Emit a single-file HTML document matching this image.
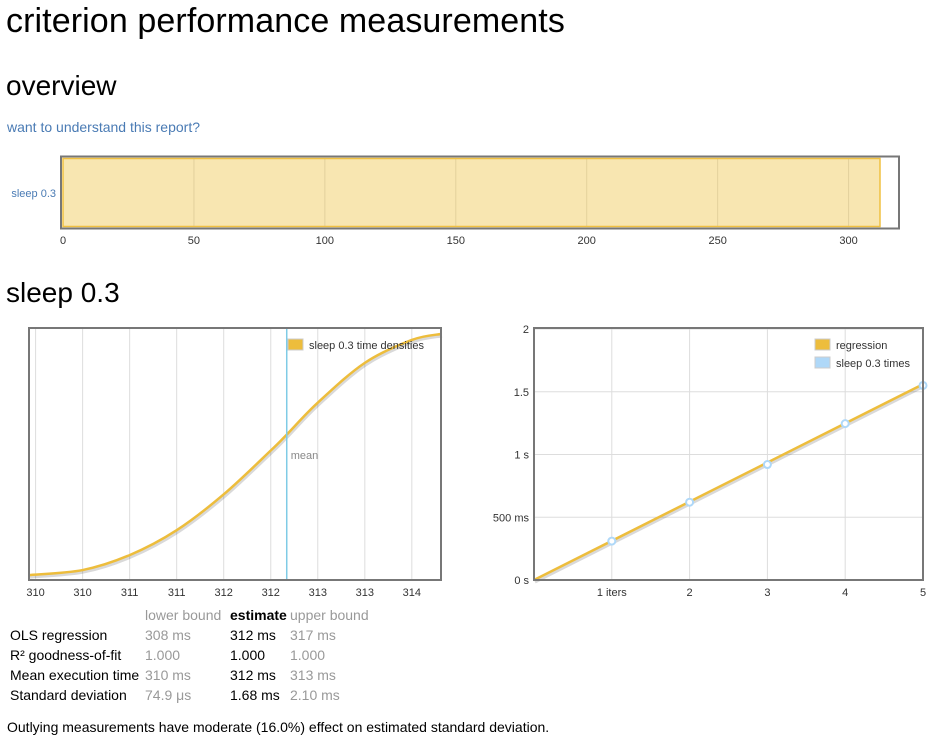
<!DOCTYPE html>
<html><head><meta charset="utf-8">
<style>
body{margin:0;width:938px;height:745px;background:#fff;font-family:"Liberation Sans",sans-serif;color:#000;position:relative;overflow:hidden}
.a{position:absolute;white-space:nowrap}
h1,h2{margin:0;font-weight:normal}
svg{position:absolute;left:0;top:0}
svg text{font-family:"Liberation Sans",sans-serif}
</style></head><body>
<h1 class="a" style="left:6px;top:2px;font-size:34px;letter-spacing:0.1px">criterion performance measurements</h1>
<h2 class="a" style="left:6px;top:70px;font-size:28px">overview</h2>
<a class="a" style="left:7px;top:119px;font-size:14px;color:#4a7bb4;text-decoration:none">want to understand this report?</a>
<h2 class="a" style="left:6px;top:277px;font-size:28px">sleep 0.3</h2>

<svg width="938" height="745">
<g id="ov"></g>
<g id="kde"></g>
<g id="reg"></g>
</svg>

<div class="a" style="left:0;top:0;font-size:14px">
<div class="a" style="left:145px;top:607px;color:#999">lower bound</div>
<div class="a" style="left:230px;top:607px;font-weight:bold">estimate</div>
<div class="a" style="left:290px;top:607px;color:#999">upper bound</div>
<div class="a" style="left:10px;top:627px">OLS regression</div>
<div class="a" style="left:145px;top:627px;color:#999">308 ms</div>
<div class="a" style="left:230px;top:627px">312 ms</div>
<div class="a" style="left:290px;top:627px;color:#999">317 ms</div>
<div class="a" style="left:10px;top:647px">R² goodness-of-fit</div>
<div class="a" style="left:145px;top:647px;color:#999">1.000</div>
<div class="a" style="left:230px;top:647px">1.000</div>
<div class="a" style="left:290px;top:647px;color:#999">1.000</div>
<div class="a" style="left:10px;top:667px">Mean execution time</div>
<div class="a" style="left:145px;top:667px;color:#999">310 ms</div>
<div class="a" style="left:230px;top:667px">312 ms</div>
<div class="a" style="left:290px;top:667px;color:#999">313 ms</div>
<div class="a" style="left:10px;top:687px">Standard deviation</div>
<div class="a" style="left:145px;top:687px;color:#999">74.9 μs</div>
<div class="a" style="left:230px;top:687px">1.68 ms</div>
<div class="a" style="left:290px;top:687px;color:#999">2.10 ms</div>
</div>
<div class="a" style="left:7px;top:719px;font-size:14px">Outlying measurements have moderate (16.0%) effect on estimated standard deviation.</div>

<script>
const ovNames=["sleep 0.3"];
const ovValues=[312];
const ovTicks=[0,50,100,150,200,250,300];

const kdeX=[309.73,310.3,310.8,311.3,311.8,312.3,312.47,312.8,313.3,313.8,314.11];
const kdeY=[5,10,25,50,86,130,146,178,218,241,247];
const kdeTicks=[309.8,310.3,310.8,311.3,311.8,312.3,312.8,313.3,313.8];
const kdeTickLabels=["310","310","311","311","312","312","313","313","314"];
const kdeMean=312.47;

const regIters=[1,2,3,4,5];
const regTimes=[0.31,0.62,0.92,1.246,1.55];
const regSlope=0.312;
const regYTicks=[0,0.5,1,1.5,2];
const regYLabels=["0 s","500 ms","1 s","1.5","2"];
const regXTicks=[1,2,3,4,5];
const regXLabels=["1 iters","2","3","4","5"];

const NS="http://www.w3.org/2000/svg";
function mk(parent,tag,attrs,text){const e=document.createElementNS(NS,tag);for(const k in attrs)e.setAttribute(k,attrs[k]);if(text!=null)e.textContent=text;parent.appendChild(e);return e;}

// overview
(function(){
const g=document.getElementById('ov');
const x=v=>63+v*(817/312);
ovTicks.forEach(t=>{
  mk(g,'line',{x1:x(t),x2:x(t),y1:158,y2:227,stroke:'#ddd'});
  const l=mk(g,'text',{x:x(t),y:244,'font-size':11,'text-anchor':'middle',fill:'#333'},t);
  
  
});
ovValues.forEach((v,i)=>{
  const r=mk(g,'rect',{x:x(0),y:158.5,width:x(v)-x(0),height:68,fill:'rgba(237,190,50,0.38)',stroke:'#f0c040','stroke-width':1.5});
  
  
  const t=mk(g,'text',{x:56,y:197,'font-size':11,'text-anchor':'end',fill:'#4a7bb4'},ovNames[i]);
  
  
});
mk(g,'rect',{x:61,y:156.5,width:838,height:72,fill:'none',stroke:'#777','stroke-width':2});
})();

// kde
(function(){
const g=document.getElementById('kde');
const L=29,R=441,T=329,B=580;
const x=v=>L+(v-309.73)/(314.11-309.73)*(R-L);
const y=v=>B-v/252*(B-T);
kdeTicks.forEach((t,i)=>{
  mk(g,'line',{x1:x(t),x2:x(t),y1:T,y2:B,stroke:'#ddd'});
  const l=mk(g,'text',{x:x(t),y:596,'font-size':11,'text-anchor':'middle',fill:'#333'},kdeTickLabels[i]);
  
  
});
const pts=kdeX.map((v,i)=>[x(v),y(kdeY[i])]);
let d='M'+pts[0][0]+','+pts[0][1];
for(let i=0;i<pts.length-1;i++){
  const p0=pts[Math.max(0,i-1)],p1=pts[i],p2=pts[i+1],p3=pts[Math.min(pts.length-1,i+2)];
  const c1=[p1[0]+(p2[0]-p0[0])/6,p1[1]+(p2[1]-p0[1])/6],c2=[p2[0]-(p3[0]-p1[0])/6,p2[1]-(p3[1]-p1[1])/6];
  d+=` C${c1[0]},${c1[1]} ${c2[0]},${c2[1]} ${p2[0]},${p2[1]}`;
}
mk(g,'path',{d:d,fill:'none',stroke:'rgba(0,0,0,0.15)','stroke-width':3,transform:'translate(1,2)'});
const c=mk(g,'path',{d:d,fill:'none',stroke:'#edbd3c','stroke-width':2.5});


const m=mk(g,'line',{x1:x(kdeMean),x2:x(kdeMean),y1:T,y2:B,stroke:'#7fcbe6','stroke-width':1.5});


mk(g,'text',{x:x(kdeMean)+4,y:459,'font-size':11,fill:'#888'},'mean');
const lg=mk(g,'g',{});


mk(lg,'rect',{x:288,y:339,width:15,height:11,fill:'#edbd3c',stroke:'#ccc'});
mk(lg,'text',{x:309,y:349,'font-size':11,fill:'#333'},'sleep 0.3 time densities');
mk(g,'rect',{x:L,y:T-1,width:R-L,height:B-T+1,fill:'none',stroke:'#777','stroke-width':2});
})();

// regression
(function(){
const g=document.getElementById('reg');
const L=534,R=923,T=329,B=580;
const x=v=>L+v/5*(R-L);
const y=v=>B-v/2*(B-T);
regYTicks.forEach((t,i)=>{
  mk(g,'line',{x1:L,x2:R,y1:y(t),y2:y(t),stroke:'#ddd'});
  const l=mk(g,'text',{x:L-5,y:y(t)+4,'font-size':11,'text-anchor':'end',fill:'#333'},regYLabels[i]);
  
  
});
regXTicks.forEach((t,i)=>{
  mk(g,'line',{x1:x(t),x2:x(t),y1:T,y2:B,stroke:'#ddd'});
  const l=mk(g,'text',{x:x(t),y:596,'font-size':11,'text-anchor':'middle',fill:'#333'},regXLabels[i]);
  
  
});
mk(g,'line',{x1:x(0)+1,y1:y(0)+2,x2:x(5)+1,y2:y(5*regSlope)+2,stroke:'rgba(0,0,0,0.15)','stroke-width':3});
const rl=mk(g,'line',{x1:x(0),y1:y(0),x2:x(5),y2:y(5*regSlope),stroke:'#edbd3c','stroke-width':2.5});


regIters.forEach((it,i)=>{
  const p=mk(g,'circle',{cx:x(it),cy:y(regTimes[i]),r:3.5,fill:'#fff',stroke:'#afd8f8','stroke-width':2});
  
  
});
const lg=mk(g,'g',{});


mk(lg,'rect',{x:815,y:339,width:15,height:11,fill:'#edbd3c',stroke:'#ccc'});
mk(lg,'text',{x:836,y:349,'font-size':11,fill:'#333'},'regression');
mk(lg,'rect',{x:815,y:357,width:15,height:11,fill:'#afd8f8',stroke:'#ccc'});
mk(lg,'text',{x:836,y:367,'font-size':11,fill:'#333'},'sleep 0.3 times');
mk(g,'rect',{x:L,y:T-1,width:R-L,height:B-T+1,fill:'none',stroke:'#777','stroke-width':2});
})();
</script>
</body></html>
